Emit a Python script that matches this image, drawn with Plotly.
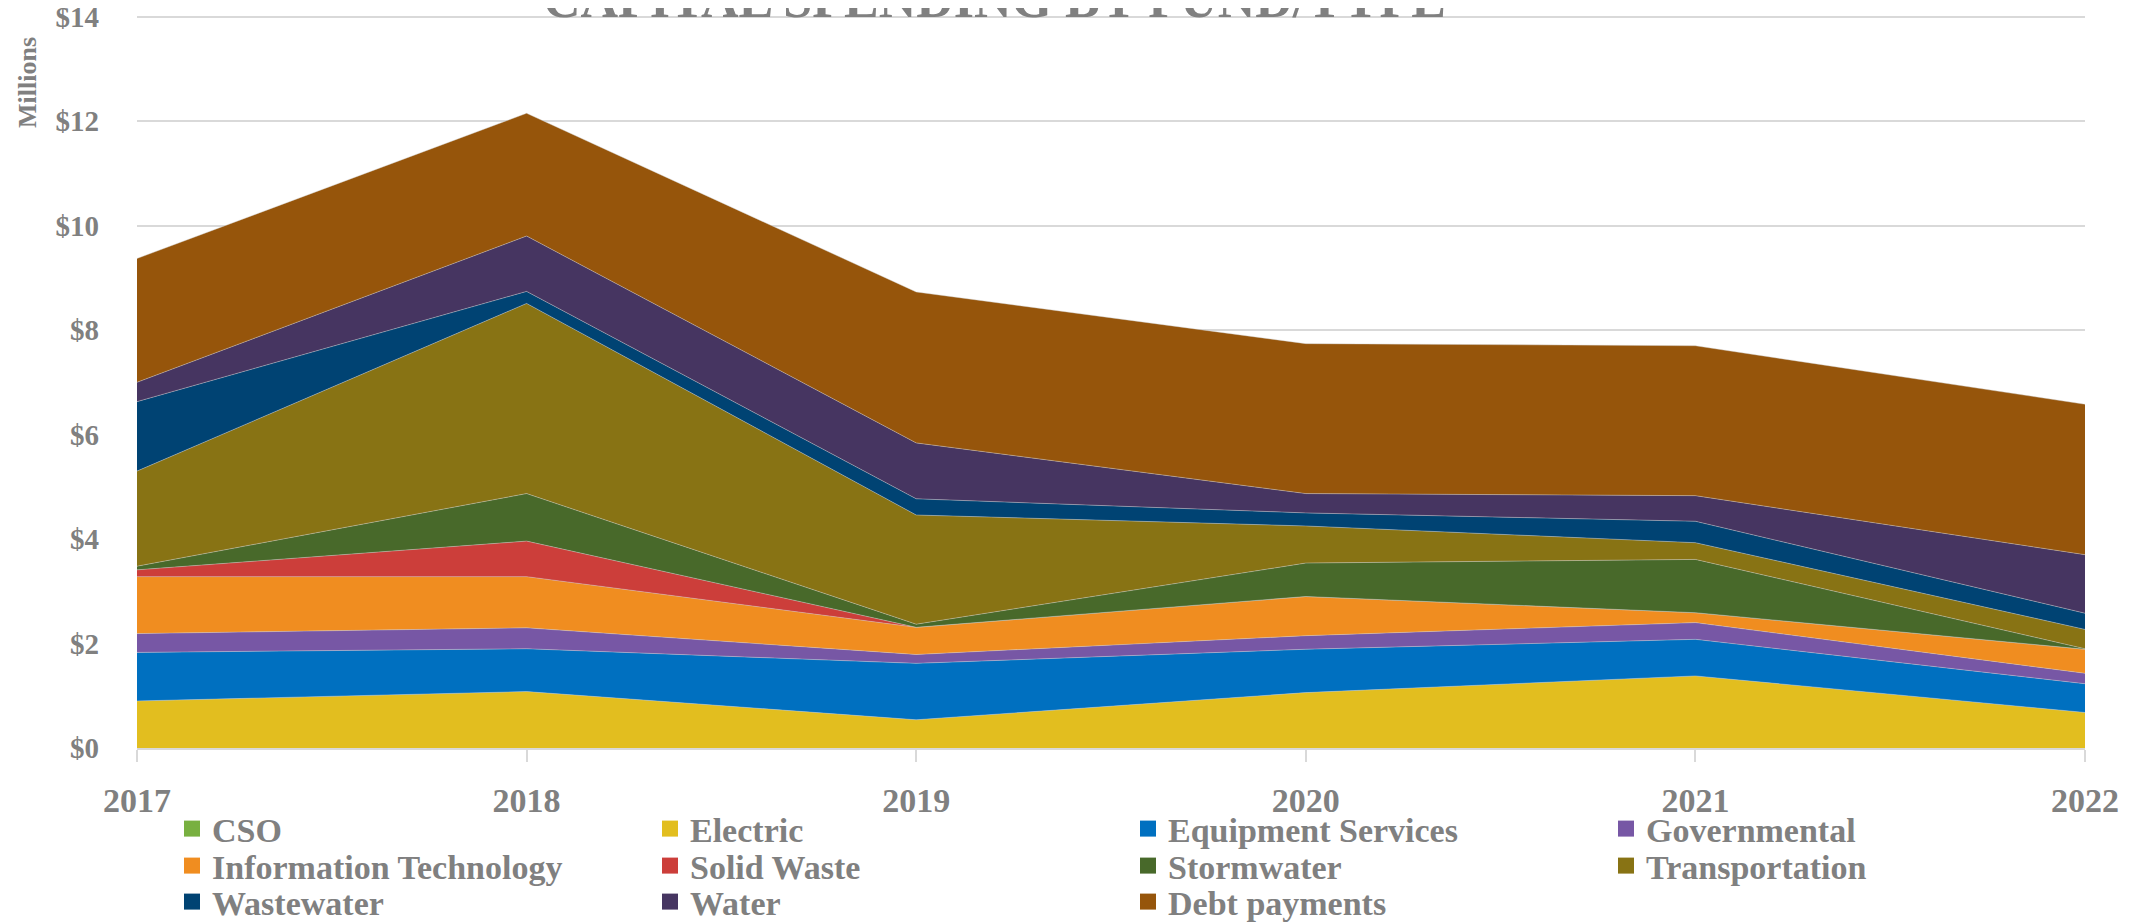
import plotly.graph_objects as go

years = [2017, 2018, 2019, 2020, 2021, 2022]

cso = [0, 0, 0, 0, 0, 0]
electric = [0.90, 1.08, 0.54, 1.06, 1.38, 0.68]
equipment_services = [0.93, 0.82, 1.08, 0.83, 0.70, 0.55]
governmental = [0.36, 0.40, 0.17, 0.26, 0.32, 0.20]
information_technology = [1.09, 0.98, 0.52, 0.75, 0.19, 0.46]
solid_waste = [0.13, 0.68, 0.0, 0.0, 0.0, 0.0]
stormwater = [0.07, 0.91, 0.06, 0.64, 1.02, 0.01]
transportation = [1.82, 3.64, 2.09, 0.71, 0.32, 0.37]
wastewater = [1.33, 0.23, 0.31, 0.25, 0.41, 0.31]
water = [0.37, 1.06, 1.07, 0.37, 0.49, 1.12]
debt_payments = [2.37, 2.35, 2.89, 2.87, 2.87, 2.88]

series_names = ["CSO", "Electric", "Equipment Services", "Governmental",
                "Information Technology", "Solid Waste", "Stormwater",
                "Transportation", "Wastewater", "Water", "Debt payments"]
series_values = [cso, electric, equipment_services, governmental,
                 information_technology, solid_waste, stormwater,
                 transportation, wastewater, water, debt_payments]
series_colors = ["#78B040", "#E2BE1F", "#0070C0", "#7757A5", "#F08D20",
                 "#CC3E3A", "#48692A", "#887314", "#004373", "#463561",
                 "#96550B"]
legend_rows = ["legend", "legend", "legend", "legend",
               "legend2", "legend2", "legend2", "legend2",
               "legend3", "legend3", "legend3"]

y_ticks = [0, 2, 4, 6, 8, 10, 12, 14]

GRAY = "#808080"
FONT = "Liberation Serif"
W, H = 2141, 915  # page body has an 8px margin
T, B = 6, 175
PH = H - T - B

fig = go.Figure()

for name, vals, col in zip(series_names, series_values, series_colors):
    fig.add_trace(go.Scatter(
        x=years, y=vals, name=name, stackgroup="one", mode="lines",
        line=dict(width=0.6 if name != "CSO" else 0, color="rgba(210,210,210,0.7)"),
        fillcolor=col, showlegend=False, hoverinfo="skip",
    ))

for name, col, lg in zip(series_names, series_colors, legend_rows):
    fig.add_trace(go.Scatter(
        x=[None], y=[None], name=name, mode="markers",
        marker=dict(symbol="square", size=18, color=col),
        showlegend=True, legend=lg,
    ))

legend_font = dict(family=FONT, size=34, color=GRAY, weight="bold")
def make_legend(ycenter):
    return dict(
        orientation="h", xref="container", yref="container",
        x=(172 - 8) / W, xanchor="left",
        y=1 - (ycenter - 8) / H, yanchor="middle",
        entrywidth=433, entrywidthmode="pixels",
        font=legend_font, itemwidth=30, traceorder="normal",
        bgcolor="rgba(0,0,0,0)",
    )

fig.update_layout(
    width=W, height=H,
    margin=dict(l=129, r=64, t=T, b=B, autoexpand=False),
    paper_bgcolor="white", plot_bgcolor="white",
    font=dict(family=FONT, color=GRAY),
    showlegend=True,
    legend=make_legend(829),
    legend2=make_legend(866),
    legend3=make_legend(902),
    xaxis=dict(
        range=[2017, 2022], tickvals=years, ticktext=[str(y) for y in years],
        showgrid=False, zeroline=False, automargin=False,
        showline=True, linecolor="#D9D9D9", linewidth=1.5,
        ticks="outside", ticklen=12, tickcolor="#D9D9D9", tickwidth=1.5,
        ticklabelstandoff=9,
        tickfont=dict(family=FONT, size=34, color=GRAY, weight="bold"),
    ),
    yaxis=dict(
        range=[0, 14.05], tickvals=y_ticks, ticktext=["$" + str(v) for v in y_ticks],
        showgrid=True, gridcolor="#D9D9D9", gridwidth=1.8,
        zeroline=False, showline=False, ticks="", automargin=False,
        ticklabelstandoff=37, ticklabeloverflow="allow",
        tickfont=dict(family=FONT, size=29, color=GRAY, weight="bold"),
    ),
    annotations=[
        dict(text="CAPITAL SPENDING BY FUND/TYPE", xref="paper", yref="paper",
             x=0.44, y=1 - 16 / PH, xanchor="center", yanchor="bottom", showarrow=False,
             font=dict(family=FONT, size=52, color=GRAY, weight="bold")),
        dict(text="Millions", xref="paper", yref="paper",
             x=-0.0565, y=1 - 68 / PH, xanchor="center", yanchor="middle", textangle=-90,
             showarrow=False,
             font=dict(family=FONT, size=26, color=GRAY, weight="bold")),
    ],
)

fig.write_html("out.html")
